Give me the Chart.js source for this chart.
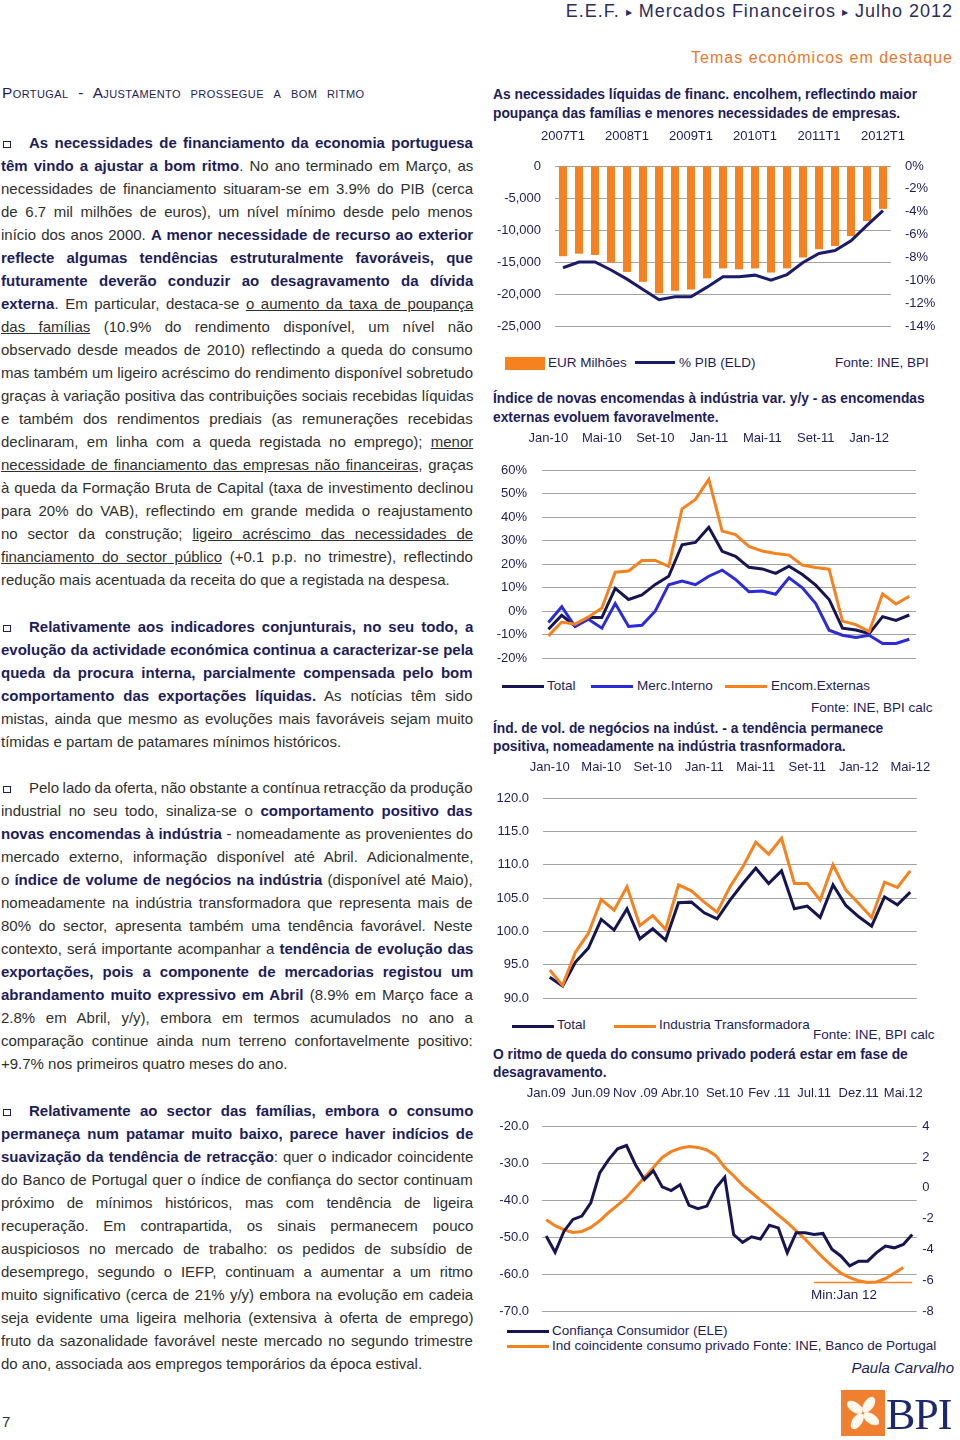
<!DOCTYPE html>
<html>
<head>
<meta charset="utf-8">
<script src="https://cdn.jsdelivr.net/npm/chart.js@4"></script>
<style>
body { margin: 0; background: #fff; }
#page { position: relative; width: 960px; height: 1440px; overflow: hidden; font-family: "Liberation Sans", Arial, sans-serif; color: #2f2f2f; }
.ln { position: absolute; left: 1px; white-space: nowrap; font-size: 15px; line-height: 23px; }
.ln b { color: #1d1d5b; }
.bx { display: inline-block; width: 6px; height: 5px; border: 1px solid #1d1d5b; margin-right: 18px; margin-left: 2px; }
.t { position: absolute; white-space: nowrap; line-height: 18px; }
.ttl { left: 493px; font-size: 13.8px; font-weight: bold; color: #1d1d5b; }
.lg { font-size: 13.5px; color: #1d1d5b; }
.sw { position: absolute; height: 3px; }
canvas { position: absolute; }
</style>
</head>
<body>
<div id="page">
  <div class="t" style="right:7px;top:2px;font-size:18px;letter-spacing:1px;color:#2b2d5c;">E.E.F. <span style="font-size:8px;vertical-align:2px;">&#9654;</span> Mercados Financeiros <span style="font-size:8px;vertical-align:2px;">&#9654;</span> Julho 2012</div>
  <div class="t" style="right:7px;top:49px;font-size:16px;letter-spacing:1px;color:#e8772e;">Temas económicos em destaque</div>
  <div class="t" style="left:2px;top:84px;font-size:15.5px;color:#1d1d5b;font-variant:small-caps;letter-spacing:0.4px;word-spacing:5px;">Portugal - Ajustamento prossegue a bom ritmo</div>

  <div id="textcol"></div>
  <div class="t" style="left:2px;top:1413px;font-size:15px;">7</div>

  <!-- chart 1 -->
  <div class="t ttl" style="top:86px;">As necessidades líquidas de financ. encolhem, reflectindo maior</div>
  <div class="t ttl" style="top:105px;">poupança das famílias e menores necessidades de empresas.</div>
  <canvas id="c1" width="465" height="211" style="left:493px;top:125px;"></canvas>
  <div class="sw" style="left:505px;top:357px;width:40px;height:13px;background:#f5821f;"></div>
  <div class="t lg" style="left:548px;top:354px;">EUR Milhões</div>
  <div class="sw" style="left:635px;top:361px;width:40px;background:#1b1b6b;"></div>
  <div class="t lg" style="left:679px;top:354px;">% PIB (ELD)</div>
  <div class="t lg" style="left:835px;top:354px;">Fonte: INE, BPI</div>

  <!-- chart 2 -->
  <div class="t ttl" style="top:390px;">Índice de novas encomendas à indústria var. y/y - as encomendas</div>
  <div class="t ttl" style="top:409px;">externas evoluem favoravelmente.</div>
  <canvas id="c2" width="440" height="248" style="left:490px;top:420px;"></canvas>
  <div class="sw" style="left:502px;top:685px;width:42px;background:#151552;"></div>
  <div class="t lg" style="left:547px;top:677px;">Total</div>
  <div class="sw" style="left:591px;top:685px;width:42px;background:#2b2bd8;"></div>
  <div class="t lg" style="left:637px;top:677px;">Merc.Interno</div>
  <div class="sw" style="left:725px;top:685px;width:42px;background:#f5821f;"></div>
  <div class="t lg" style="left:771px;top:677px;">Encom.Externas</div>
  <div class="t lg" style="left:811px;top:699px;">Fonte: INE, BPI calc</div>

  <!-- chart 3 -->
  <div class="t ttl" style="top:720px;">Índ. de vol. de negócios na indúst. - a tendência permanece</div>
  <div class="t ttl" style="top:738px;">positiva, nomeadamente na indústria trasnformadora.</div>
  <canvas id="c3" width="440" height="258" style="left:490px;top:750px;"></canvas>
  <div class="sw" style="left:512px;top:1025px;width:42px;background:#151552;"></div>
  <div class="t lg" style="left:557px;top:1016px;">Total</div>
  <div class="sw" style="left:614px;top:1025px;width:42px;background:#f5821f;"></div>
  <div class="t lg" style="left:659px;top:1016px;">Industria Transformadora</div>
  <div class="t lg" style="left:813px;top:1026px;">Fonte: INE, BPI calc</div>

  <!-- chart 4 -->
  <div class="t ttl" style="top:1046px;">O ritmo de queda do consumo privado poderá estar em fase de</div>
  <div class="t ttl" style="top:1064px;">desagravamento.</div>
  <canvas id="c4" width="465" height="241" style="left:490px;top:1080px;"></canvas>
  <div class="t lg" style="left:811px;top:1286px;">Min:Jan 12</div>
  <div class="sw" style="left:507px;top:1330px;width:42px;background:#151552;"></div>
  <div class="t lg" style="left:552px;top:1322px;">Confiança Consumidor (ELE)</div>
  <div class="sw" style="left:507px;top:1345px;width:42px;background:#f5821f;"></div>
  <div class="t lg" style="left:552px;top:1337px;">Ind coincidente consumo privado Fonte: INE, Banco de Portugal</div>

  <div class="t" style="right:6px;top:1359px;font-size:15px;font-style:italic;color:#1d1d5b;">Paula Carvalho</div>
  <svg style="position:absolute;left:841px;top:1390px;" width="44" height="46" viewBox="0 0 44 46">
    <rect width="44" height="46" fill="#f0802f"/>
    <g transform="translate(22 23)" fill="#fff8ec">
      <ellipse cx="0" cy="-10" rx="5" ry="9" transform="rotate(35)"/>
      <ellipse cx="0" cy="-10" rx="5" ry="9" transform="rotate(125)"/>
      <ellipse cx="0" cy="-10" rx="5" ry="9" transform="rotate(215)"/>
      <ellipse cx="0" cy="-10" rx="5" ry="9" transform="rotate(305)"/>
    </g>
  </svg>
  <div class="t" style="left:886px;top:1393px;font-family:'Liberation Serif',serif;font-size:44px;line-height:44px;letter-spacing:-1px;color:#1c2a6b;">BPI</div>
</div>

<script>
// ---------- left column text (one entry per printed line) ----------
var paragraphs = [
  [142, [
    '<i class="bx"></i><b>As necessidades de financiamento da economia portuguesa</b>',
    '<b>têm vindo a ajustar a bom ritmo</b>. No ano terminado em Março, as',
    'necessidades de financiamento situaram-se em 3.9% do PIB (cerca',
    'de 6.7 mil milhões de euros), um nível mínimo desde pelo menos',
    'início dos anos 2000. <b>A menor necessidade de recurso ao exterior</b>',
    '<b>reflecte algumas tendências estruturalmente favoráveis, que</b>',
    '<b>futuramente deverão conduzir ao desagravamento da dívida</b>',
    '<b>externa</b>. Em particular, destaca-se <u>o aumento da taxa de poupança</u>',
    '<u>das famílias</u> (10.9% do rendimento disponível, um nível não',
    'observado desde meados de 2010) reflectindo a queda do consumo',
    'mas também um ligeiro acréscimo do rendimento disponível sobretudo',
    'graças à variação positiva das contribuições sociais recebidas líquidas',
    'e também dos rendimentos prediais (as remunerações recebidas',
    'declinaram, em linha com a queda registada no emprego); <u>menor</u>',
    '<u>necessidade de financiamento das empresas não financeiras</u>, graças',
    'à queda da Formação Bruta de Capital (taxa de investimento declinou',
    'para 20% do VAB), reflectindo em grande medida o reajustamento',
    'no sector da construção; <u>ligeiro acréscimo das necessidades de</u>',
    '<u>financiamento do sector público</u> (+0.1 p.p. no trimestre), reflectindo',
    'redução mais acentuada da receita do que a registada na despesa.'
  ]],
  [626, [
    '<i class="bx"></i><b>Relativamente aos indicadores conjunturais, no seu todo, a</b>',
    '<b>evolução da actividade económica continua a caracterizar-se pela</b>',
    '<b>queda da procura interna, parcialmente compensada pelo bom</b>',
    '<b>comportamento das exportações líquidas.</b> As notícias têm sido',
    'mistas, ainda que mesmo as evoluções mais favoráveis sejam muito',
    'tímidas e partam de patamares mínimos históricos.'
  ]],
  [787, [
    '<i class="bx"></i>Pelo lado da oferta, não obstante a contínua retracção da produção',
    'industrial no seu todo, sinaliza-se o <b>comportamento positivo das</b>',
    '<b>novas encomendas à indústria</b> - nomeadamente as provenientes do',
    'mercado externo, informação disponível até Abril. Adicionalmente,',
    'o <b>índice de volume de negócios na indústria</b> (disponível até Maio),',
    'nomeadamente na indústria transformadora que representa mais de',
    '80% do sector, apresenta também uma tendência favorável. Neste',
    'contexto, será importante acompanhar a <b>tendência de evolução das</b>',
    '<b>exportações, pois a componente de mercadorias registou um</b>',
    '<b>abrandamento muito expressivo em Abril</b> (8.9% em Março face a',
    '2.8% em Abril, y/y), embora em termos acumulados no ano a',
    'comparação continue ainda num terreno confortavelmente positivo:',
    '+9.7% nos primeiros quatro meses do ano.'
  ]],
  [1110, [
    '<i class="bx"></i><b>Relativamente ao sector das famílias, embora o consumo</b>',
    '<b>permaneça num patamar muito baixo, parece haver indícios de</b>',
    '<b>suavização da tendência de retracção</b>: quer o indicador coincidente',
    'do Banco de Portugal quer o índice de confiança do sector continuam',
    'próximo de mínimos históricos, mas com tendência de ligeira',
    'recuperação. Em contrapartida, os sinais permanecem pouco',
    'auspiciosos no mercado de trabalho: os pedidos de subsídio de',
    'desemprego, segundo o IEFP, continuam a aumentar a um ritmo',
    'muito significativo (cerca de 21% y/y) embora na evolução em cadeia',
    'seja evidente uma ligeira melhoria (extensiva à oferta de emprego)',
    'fruto da sazonalidade favorável neste mercado no segundo trimestre',
    'do ano, associada aos empregos temporários da época estival.'
  ]]
];

var col = document.getElementById('textcol');
paragraphs.forEach(function (p) {
  p[1].forEach(function (html, i) {
    var el = document.createElement('div');
    el.className = 'ln';
    el.style.top = (p[0] + i * 23 - 11.5) + 'px';
    el.innerHTML = html;
    col.appendChild(el);
    if (i < p[1].length - 1) {
      var spaces = el.textContent.split(' ').length - 1;
      var w = el.offsetWidth;
      el.style.wordSpacing = ((472 - w) / spaces) + 'px';
    }
  });
});

// ---------- chart data ----------
var quarters = ['2007T1', '2007T2', '2007T3', '2007T4', '2008T1', '2008T2', '2008T3', '2008T4',
  '2009T1', '2009T2', '2009T3', '2009T4', '2010T1', '2010T2', '2010T3', '2010T4',
  '2011T1', '2011T2', '2011T3', '2011T4', '2012T1'];
var eurMilhoes = [-14100, -13700, -13900, -15100, -16550, -18100, -19900, -19500, -19300, -17550,
  -16000, -16150, -16000, -16650, -16000, -14300, -13000, -12500, -10950, -8600, -6700];
var pctPib = [-8.9, -8.4, -8.4, -9.1, -9.9, -10.8, -11.7, -11.45, -11.45, -10.6,
  -9.7, -9.7, -9.55, -10.0, -9.5, -8.45, -7.65, -7.4, -6.55, -5.2, -3.9];

var months = ['Jan-10', 'Fev-10', 'Mar-10', 'Abr-10', 'Mai-10', 'Jun-10', 'Jul-10', 'Ago-10', 'Set-10', 'Out-10', 'Nov-10', 'Dez-10',
  'Jan-11', 'Fev-11', 'Mar-11', 'Abr-11', 'Mai-11', 'Jun-11', 'Jul-11', 'Ago-11', 'Set-11', 'Out-11', 'Nov-11', 'Dez-11',
  'Jan-12', 'Fev-12', 'Mar-12', 'Abr-12', 'Mai-12'];

var encTotal = [-7.8, -1.8, -6.4, -2.8, -2.8, 9.6, 4.9, 6.8, 11.3, 14.8, 28.2, 29.2, 35.6, 25.4,
  23.3, 18.6, 17.9, 16.0, 19.1, 15.5, 11.0, 4.9, -7.3, -8.1, -9.6, -2.4, -4.0, -1.7];
var encInterno = [-4.9, 1.8, -6.6, -3.5, -7.3, 3.2, -6.6, -6.1, 0.0, 11.2, 12.7, 11.2, 14.8, 17.4,
  13.4, 8.2, 8.5, 7.1, 14.1, 9.9, 3.2, -8.2, -10.3, -11.3, -10.3, -13.8, -13.8, -12.0];
var encExternas = [-10.6, -4.7, -5.6, -2.5, 1.3, 16.5, 17.0, 21.5, 21.5, 19.0, 43.5, 47.5, 56.0, 34.0,
  32.5, 27.5, 25.5, 24.5, 23.8, 19.5, 18.5, 17.8, -4.3, -5.8, -8.8, 7.3, 3.0, 6.3];

var volTotal = [93.1, 91.8, 95.4, 97.5, 101.8, 100.2, 103.4, 98.9, 100.4, 98.7, 104.3, 104.4, 102.8, 101.9,
  104.7, 107.2, 109.5, 107.2, 109.1, 103.4, 103.8, 102.1, 107.0, 103.9, 102.2, 100.8, 105.2, 104.0, 105.9];
var volTransf = [94.2, 91.9, 96.9, 99.7, 104.8, 103.2, 106.7, 100.9, 102.4, 100.3, 107.0, 106.1, 104.4, 102.9,
  106.7, 109.7, 113.4, 111.6, 114.0, 107.2, 107.2, 104.7, 110.0, 106.2, 104.2, 102.1, 107.4, 106.6, 109.1];

var months09 = ['Jan.09', 'Fev.09', 'Mar.09', 'Abr.09', 'Mai.09', 'Jun.09', 'Jul.09', 'Ago.09', 'Set.09', 'Out.09', 'Nov .09', 'Dez.09',
  'Jan.10', 'Fev.10', 'Mar.10', 'Abr.10', 'Mai.10', 'Jun.10', 'Jul.10', 'Ago.10', 'Set.10', 'Out.10', 'Nov.10', 'Dez.10',
  'Jan.11', 'Fev .11', 'Mar.11', 'Abr.11', 'Mai.11', 'Jun.11', 'Jul.11', 'Ago.11', 'Set.11', 'Out.11', 'Nov.11', 'Dez.11',
  'Jan.12', 'Fev.12', 'Mar.12', 'Abr.12', 'Mai.12', 'Jun.12'];
var confianca = [-49.7, -54.1, -48.4, -45.2, -44.3, -40.7, -32.6, -29.0, -26.1, -25.2, -30.4, -34.4, -32.0, -36.4,
  -37.4, -35.8, -41.4, -42.3, -41.6, -36.7, -33.8, -49.3, -51.4, -49.9, -50.5, -46.8, -47.5, -54.2,
  -48.8, -48.8, -49.3, -49.0, -53.3, -55.1, -57.8, -56.5, -56.5, -54.2, -52.4, -52.9, -52.0, -49.3];
var indCoincidente = [-2.07, -2.46, -2.72, -2.9, -2.83, -2.57, -2.14, -1.6, -1.12, -0.62, 0.03, 0.68, 1.33, 1.98,
  2.35, 2.57, 2.68, 2.63, 2.46, 2.09, 1.33, 0.79, 0.18, -0.30, -0.79, -1.27, -1.77, -2.25,
  -2.79, -3.33, -3.94, -4.53, -5.07, -5.54, -5.83, -6.04, -6.15, -6.11, -5.89, -5.54, -5.18, null];
var minLevel = -6.15;      // minimo de Jan 12
var minFrom = 30;          // a linha do minimo comeca em Jul.11
var minLine = months09.map(function (m, i) { return i >= minFrom ? minLevel : null; });

// ---------- chart helpers ----------
Chart.defaults.font.family = '"Liberation Sans", Arial, sans-serif';
Chart.defaults.font.size = 13;
Chart.defaults.color = '#1d1d5b';
var NAVY = '#1b1b6b', DARK = '#151552', BLUE = '#2b2bd8', ORANGE = '#f5821f', GRID = '#a3a3a3';

// ticks.padding is also added to the chart area padding, so reset it after fit
function noEdgePadding(s) {
  s.paddingTop = 0; s.paddingBottom = 0; s.paddingLeft = 0; s.paddingRight = 0;
}

function topAxis(height, gap, every) {
  return {
    position: 'top',
    offset: true,
    grid: { display: false, drawTicks: false },
    border: { display: false },
    ticks: {
      autoSkip: false, maxRotation: 0, minRotation: 0, padding: gap,
      callback: function (v, i) { return i % every === 0 ? this.getLabelForValue(v) : ''; }
    },
    afterFit: function (s) { s.height = height; noEdgePadding(s); }
  };
}
function sideAxis(pos, width, gap, min, max, step, fmt, showGrid) {
  return {
    position: pos, min: min, max: max,
    grid: { display: showGrid, color: GRID, lineWidth: 1, drawTicks: false },
    border: { display: false },
    ticks: { stepSize: step, padding: gap, callback: fmt },
    afterFit: function (s) { s.width = width; noEdgePadding(s); }
  };
}
function baseOptions(scales, padding) {
  return {
    responsive: false, animation: false, devicePixelRatio: 1,
    layout: { padding: padding },
    plugins: { legend: { display: false }, tooltip: { enabled: false } },
    elements: { point: { radius: 0 }, line: { tension: 0 } },
    scales: scales
  };
}
function lineSet(data, color, axis, width) {
  return { type: 'line', data: data, borderColor: color, backgroundColor: color,
    borderWidth: width || 3, pointRadius: 0, yAxisID: axis || 'y', order: 0 };
}

// chart 1: necessidades de financiamento
new Chart(document.getElementById('c1').getContext('2d'), {
  type: 'bar',
  data: {
    labels: quarters,
    datasets: [
      lineSet(pctPib, NAVY, 'y2'),
      { type: 'bar', data: eurMilhoes, backgroundColor: ORANGE, yAxisID: 'y', order: 1,
        categoryPercentage: 1, barPercentage: 0.5 }
    ]
  },
  options: baseOptions({
    x: topAxis(41, 22, 4),
    y: sideAxis('left', 62, 14, -25000, 0, 5000, function (v) { return v.toLocaleString('en-US'); }, true),
    y2: sideAxis('right', 67, 14, -14, 0, 2, function (v) { return v + '%'; }, false)
  }, { bottom: 10 })
});

// chart 2: novas encomendas
new Chart(document.getElementById('c2').getContext('2d'), {
  type: 'line',
  data: {
    labels: months.slice(0, 28),
    datasets: [lineSet(encExternas, ORANGE), lineSet(encInterno, BLUE), lineSet(encTotal, DARK)]
  },
  options: baseOptions({
    x: topAxis(50, 24, 4),
    y: sideAxis('left', 51.7, 14.7, -20, 60, 10, function (v) { return v + '%'; }, true)
  }, { right: 14, bottom: 10 })
});

// chart 3: volume de negocios
new Chart(document.getElementById('c3').getContext('2d'), {
  type: 'line',
  data: {
    labels: months,
    datasets: [lineSet(volTransf, ORANGE), lineSet(volTotal, DARK)]
  },
  options: baseOptions({
    x: topAxis(48.3, 23.5, 4),
    y: sideAxis('left', 53.3, 14.3, 90, 120, 5, function (v) { return v.toFixed(1); }, true)
  }, { right: 13.3, bottom: 10 })
});

// chart 4: consumo privado
new Chart(document.getElementById('c4').getContext('2d'), {
  type: 'line',
  data: {
    labels: months09,
    datasets: [
      lineSet(confianca, DARK, 'y'),
      lineSet(indCoincidente, ORANGE, 'y2'),
      lineSet(minLine, ORANGE, 'y2', 1.5)
    ]
  },
  options: baseOptions({
    x: topAxis(46.3, 25.5, 5),
    y: sideAxis('left', 51.7, 12.7, -70, -20, 10, function (v) { return v.toFixed(1); }, true),
    y2: sideAxis('right', 38.3, 5.5, -8, 4, 2, function (v) { return v; }, false)
  }, { bottom: 10 })
});
</script>
</body>
</html>
